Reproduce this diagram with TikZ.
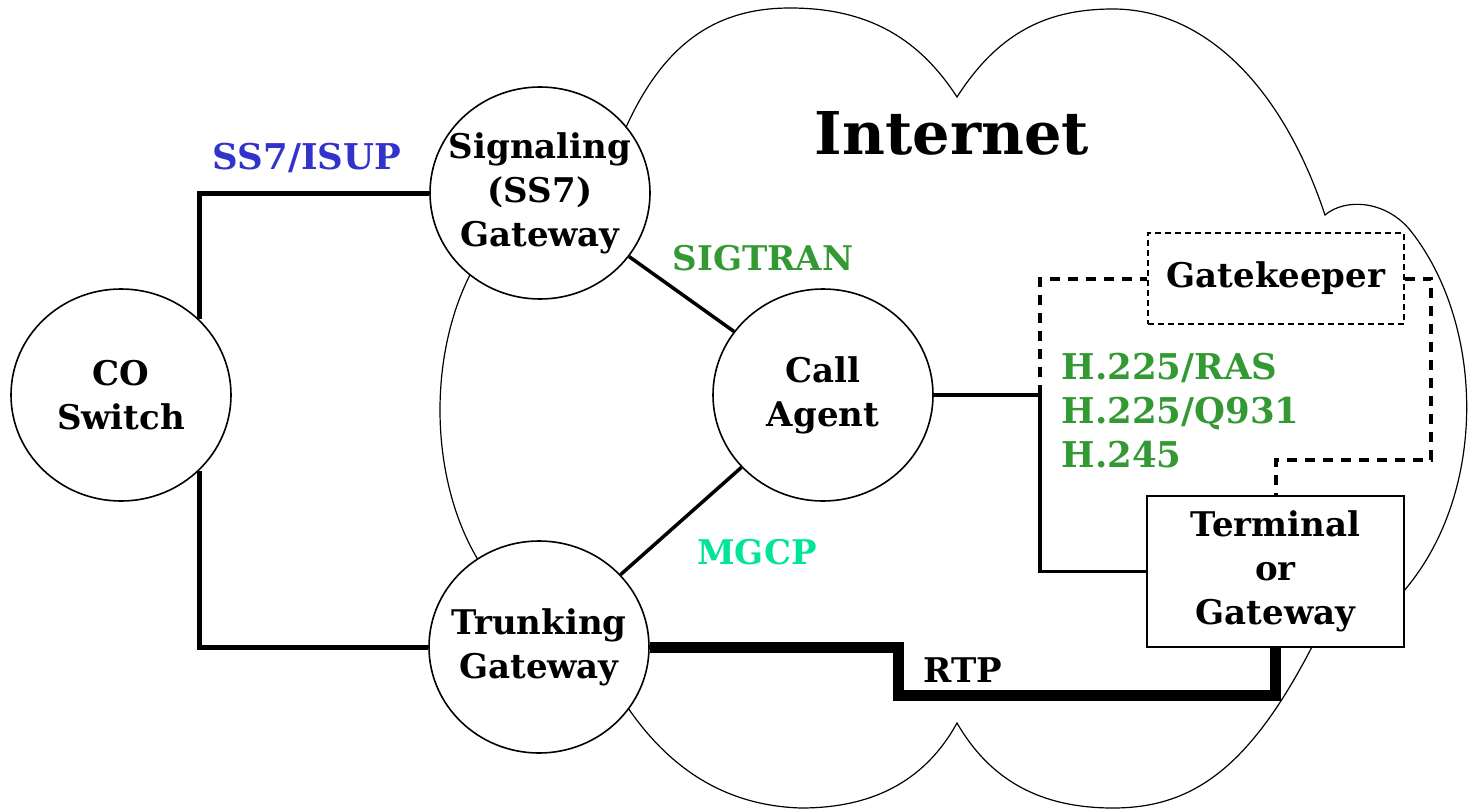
\documentclass[tikz,border=0pt]{standalone}
\usepackage{fontspec}
\setmainfont{DejaVu Serif}
\usepackage{tikz}
\usetikzlibrary{shapes,positioning}
\definecolor{isup_blue}{RGB}{51,51,204}
\definecolor{sig_green}{RGB}{51,153,51}
\definecolor{mgcp_green}{RGB}{0,230,150}
\newcommand\bigtxt{\fontsize{34}{44}\selectfont\bfseries}
\newcommand\widetxt{\fontsize{35.5}{44}\selectfont\bfseries}
\begin{document}
\begin{tikzpicture}[x=1pt,y=-1pt,line join=miter]
    \tikzstyle{gateway}=[draw, ellipse, line width=1.6pt, fill=white, inner sep=-30pt,
        minimum width=220pt, minimum height=212pt, align=center, font=\bigtxt]
    \tikzstyle{box}=[draw, rectangle, line width=1.6pt, fill=white, inner sep=0pt,
        align=center, font=\bigtxt]
    \tikzstyle{proto}=[font=\bigtxt]
    \tikzstyle{link}=[line width=3.5pt]
    \tikzstyle{trunk}=[line width=5pt]
    \tikzstyle{ras}=[line width=4pt, dash pattern=on 10pt off 8pt]

    \useasboundingbox (0,0) rectangle (1475,811);

    % the cloud
    \draw[line width=1.2pt]
      (600,200) .. controls (640,60) and (700,8) .. (790,8)
      .. controls (870,8) and (920,40) .. (957,97)
      .. controls (1000,30) and (1050,9) .. (1113,9)
      .. controls (1200,9) and (1280,80) .. (1325,215)
      .. controls (1345,198) and (1385,200) .. (1410,230)
      .. controls (1490,330) and (1490,520) .. (1380,615)
      -- (1330,610)
      .. controls (1260,760) and (1200,808) .. (1113,808)
      .. controls (1040,808) and (990,780) .. (957,723)
      .. controls (920,790) and (860,808) .. (801,808)
      .. controls (700,805) and (640,740) .. (600,660)
      -- (500,590)
      .. controls (420,500) and (420,320) .. (500,230)
      -- cycle;

    \node[proto] (NET) at (952,133) {\fontsize{59}{70}\selectfont Internet};

    \node[gateway] (CO) at (121,395) {CO\\Switch};
    \node[gateway] (SG) at (540,193) {Signaling\\(SS7)\\Gateway};
    \node[gateway] (CA) at (823,395) {Call\\Agent};
    \node[gateway] (TG) at (539,647) {Trunking\\Gateway};
    \node[box, minimum width=257pt, minimum height=151pt] (TE) at (1275.5,571.5) {Terminal\\or\\Gateway};
    \node[box, line width=1.2pt, dash pattern=on 6pt off 4pt,
          minimum width=256pt, minimum height=91pt] (GK) at (1276,278.5) {Gatekeeper};

    \coordinate (hbend) at (1040,395);
    \coordinate (gbend) at (1431,460);
    \coordinate (rbend) at (898,695);

    \draw[trunk] (CO.north east) |- (SG.west);
    \draw[trunk] (CO.south east) |- (TG.west);
    \draw[link] (SG) -- (CA);
    \draw[link] (TG) -- (CA);
    \draw[link] (CA.east) -- (hbend) |- (TE.west);
    \draw[ras] (hbend) |- (GK.west);
    \draw[ras] (GK.east) -| (gbend) -| (TE.north);
    \draw[line width=11pt] (TG.east) -| (rbend) -| (TE.south);

    \node[proto, font=\widetxt, text=isup_blue] (L1) at (307,158) {SS7/ISUP};
    \node[proto, text=sig_green]  (L2) at (763,258) {SIGTRAN};
    \node[proto, text=mgcp_green] (L3) at (757,552) {MGCP};
    \node[proto, font=\widetxt, text=sig_green, anchor=west, align=left] (L4) at (1058,411)
      {H.225/RAS\\H.225/Q931\\H.245};
    \node[proto] (L5) at (963,670) {RTP};
\end{tikzpicture}
\end{document}
